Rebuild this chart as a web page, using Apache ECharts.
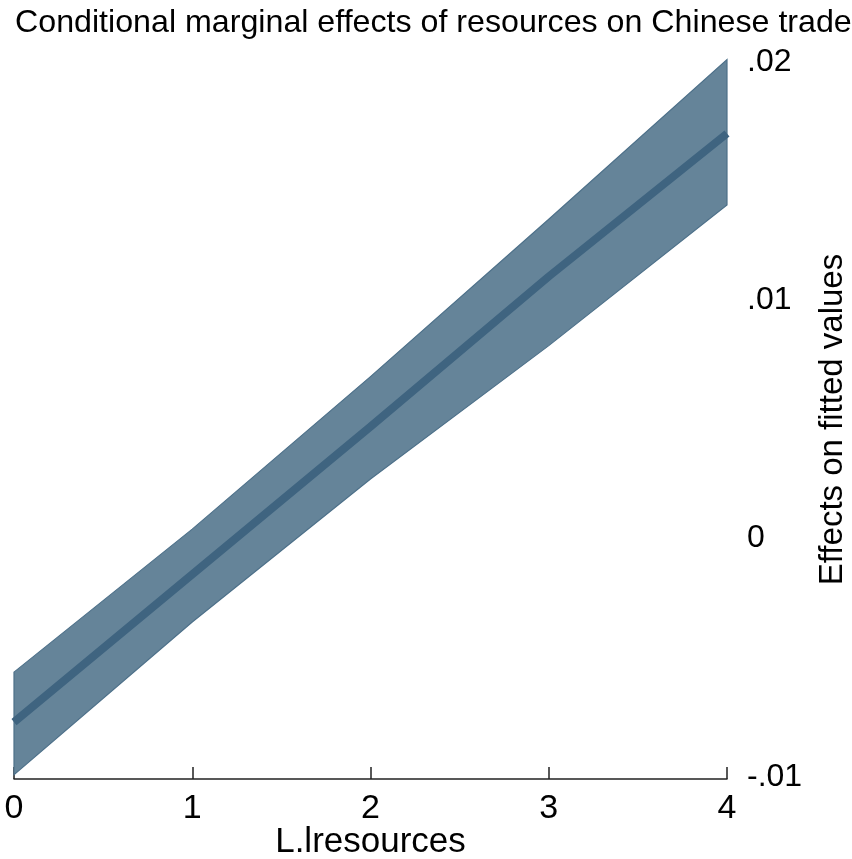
<!DOCTYPE html>
<html>
<head>
<meta charset="utf-8">
<script src="https://cdn.jsdelivr.net/npm/echarts@6/dist/echarts.min.js"></script>
<style>html,body{margin:0;padding:0;background:#fff}#c{width:852px;height:859px}</style>
</head>
<body>
<div id="c"></div>
<script>
var xValues = [0, 1, 2, 3, 4];
var effect = [-0.0077, -0.0015, 0.0047, 0.0110, 0.0170];
var upper = [-0.0056, 0.0004, 0.0068, 0.0134, 0.0201];
var lower = [-0.0099, -0.0035, 0.0025, 0.0081, 0.0140];
var yTickValues = [-0.01, 0, 0.01, 0.02];
var yTickLabels = ['-.01', '0', '.01', '.02'];

var font = 'Liberation Sans, Arial, sans-serif';
var chart = echarts.init(document.getElementById('c'));

var bandData = xValues.map(function (x, i) { return [x, lower[i], upper[i]]; });

chart.setOption({
  animation: false,
  title: {
    text: 'Conditional marginal effects of resources on Chinese trade',
    left: 10,
    top: 2,
    textStyle: { fontFamily: font, fontSize: 32.2, fontWeight: 'normal', color: '#000' }
  },
  grid: { left: 14, right: 125, top: 62, bottom: 82, containLabel: false, outerBoundsMode: 'none' },
  xAxis: {
    type: 'value', min: 0, max: 4, interval: 1,
    name: 'L.lresources', nameLocation: 'middle', nameGap: 46, nameMoveOverlap: false,
    nameTextStyle: { fontFamily: font, fontSize: 35, color: '#000' },
    axisLine: { onZero: false, lineStyle: { color: '#222', width: 1.5 } },
    axisTick: { inside: true, length: 12, lineStyle: { color: '#222', width: 1.5 } },
    axisLabel: { fontFamily: font, fontSize: 34, color: '#000', margin: 13 },
    splitLine: { show: false },
    offset: 2
  },
  yAxis: {
    type: 'value', position: 'right', min: -0.01, max: 0.02, interval: 0.01,
    name: 'Effects on fitted values', nameLocation: 'middle', nameGap: 89, nameRotate: 90, nameMoveOverlap: false,
    nameTextStyle: { fontFamily: font, fontSize: 33, color: '#000' },
    axisLine: { show: false },
    axisTick: { show: false },
    splitLine: { show: false },
    axisLabel: {
      fontFamily: font, fontSize: 32, color: '#000', margin: 20, align: 'left',
      formatter: function (v) {
        for (var i = 0; i < yTickValues.length; i++) {
          if (Math.abs(v - yTickValues[i]) < 1e-9) return yTickLabels[i];
        }
        return '';
      }
    }
  },
  series: [
    {
      type: 'custom',
      data: bandData,
      encode: { x: 0, y: [1, 2] },
      renderItem: function (params, api) {
        if (params.dataIndex !== 0) return;
        var top = [], bot = [];
        for (var i = 0; i < bandData.length; i++) {
          top.push(api.coord([bandData[i][0], bandData[i][2]]));
          bot.push(api.coord([bandData[i][0], bandData[i][1]]));
        }
        var pts = top.concat(bot.reverse());
        return {
          type: 'polygon',
          shape: { points: pts },
          style: { fill: '#658499', stroke: '#4d7089', lineWidth: 1.2 }
        };
      },
      z: 1
    },
    {
      type: 'line',
      data: xValues.map(function (x, i) { return [x, effect[i]]; }),
      symbol: 'none',
      lineStyle: { color: '#3f6480', width: 8, cap: 'butt' },
      z: 2
    }
  ]
});
</script>
</body>
</html>
